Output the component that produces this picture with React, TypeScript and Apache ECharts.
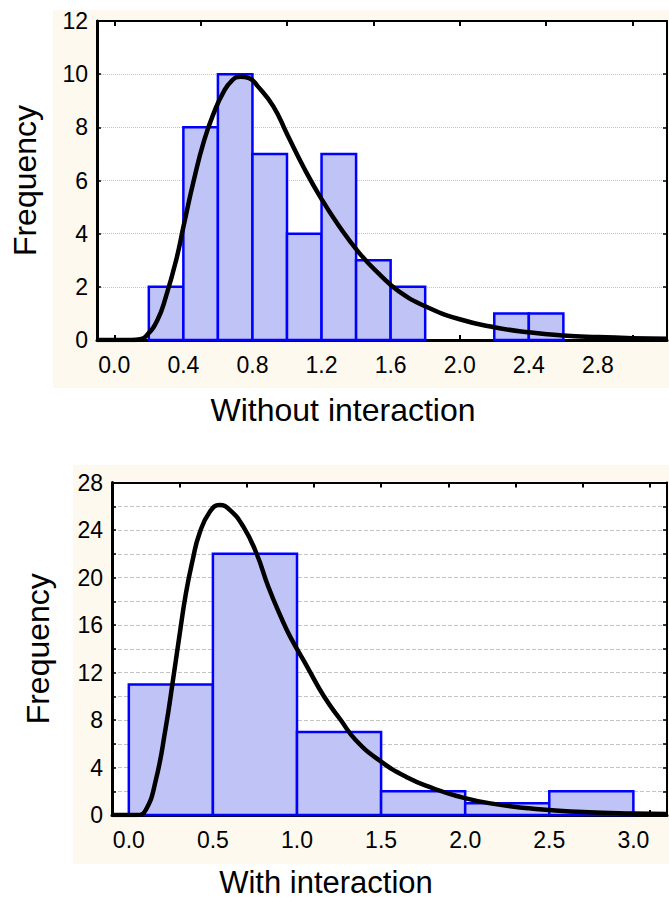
import React, { useEffect, useRef } from "react";
import * as echarts from "echarts";

// ---------- Top chart: Without interaction ----------
const topBinLo = [0.2, 0.4, 0.6, 0.8, 1.0, 1.2, 1.4, 1.6, 2.2, 2.4];
const topBinHi = [0.4, 0.6, 0.8, 1.0, 1.2, 1.4, 1.6, 1.8, 2.4, 2.6];
const topCounts = [2, 8, 10, 7, 4, 7, 3, 2, 1, 1];
const topCurveX = [-0.1, 0.1, 0.15, 0.19, 0.25, 0.3, 0.36, 0.4, 0.46, 0.52, 0.58, 0.63, 0.68, 0.73, 0.78, 0.83, 0.92, 1.0, 1.1, 1.2, 1.3, 1.42, 1.54, 1.65, 1.8, 2.0, 2.2, 2.4, 2.6, 2.8, 3.0, 3.2];
const topCurveY = [0, 0, 0.03, 0.19, 0.75, 1.65, 3.05, 4.25, 6.0, 7.5, 8.6, 9.3, 9.75, 9.9, 9.85, 9.55, 8.8, 7.75, 6.45, 5.3, 4.3, 3.26, 2.44, 1.82, 1.27, 0.78, 0.48, 0.29, 0.17, 0.11, 0.07, 0.05];
const topXLabels = [0.0, 0.4, 0.8, 1.2, 1.6, 2.0, 2.4, 2.8];
const topXTicks = [0.0, 0.5, 1.0, 1.5, 2.0, 2.5, 3.0];
const topYLabels = [0, 2, 4, 6, 8, 10, 12];
const topXTitle = "Without interaction";

// ---------- Bottom chart: With interaction ----------
const botBinLo = [0.0, 0.5, 1.0, 1.5, 2.0, 2.5];
const botBinHi = [0.5, 1.0, 1.5, 2.0, 2.5, 3.0];
const botCounts = [11, 22, 7, 2, 1, 2];
const botCurveX = [-0.1, 0.05, 0.1, 0.16, 0.22, 0.26, 0.3, 0.34, 0.38, 0.42, 0.48, 0.54, 0.6, 0.68, 0.76, 0.83, 0.91, 0.96, 1.06, 1.16, 1.26, 1.35, 1.49, 1.65, 1.81, 1.95, 2.15, 2.44, 2.7, 3.0, 3.2];
const botCurveY = [0, 0, 0.4, 2.9, 7.4, 11.1, 15.0, 18.7, 21.5, 23.7, 25.5, 26.1, 25.7, 24.3, 22.0, 19.2, 16.5, 15.0, 12.5, 10.0, 8.0, 6.3, 4.6, 3.2, 2.25, 1.6, 0.98, 0.48, 0.26, 0.13, 0.09];
const botXLabels = [0.0, 0.5, 1.0, 1.5, 2.0, 2.5, 3.0];
const botXTicks = [0.3, 0.7, 1.1, 1.5, 1.9, 2.3, 2.7, 3.1];
const botYLabels = [0, 4, 8, 12, 16, 20, 24, 28];
const botXTitle = "With interaction";

const FONT = "'Liberation Sans', Arial, sans-serif";
const BAR_FILL = "#c0c3f6";
const BAR_STROKE = "#0000ff";
const CREAM = "#fdf9ee";

function histSeries(lo: number[], hi: number[], counts: number[], idx: number) {
  return {
    type: "custom",
    xAxisIndex: idx * 2,
    yAxisIndex: idx * 2,
    z: 3,
    encode: { x: [0, 1], y: 2 },
    data: lo.map((l, i) => [l, hi[i], counts[i]]),
    renderItem: (params: any, api: any) => {
      const p0 = api.coord([api.value(0), api.value(2)]);
      const p1 = api.coord([api.value(1), 0]);
      return {
        type: "rect",
        shape: { x: p0[0], y: p0[1], width: p1[0] - p0[0], height: p1[1] - p0[1] },
        style: { fill: BAR_FILL, stroke: BAR_STROKE, lineWidth: 2.5 },
      };
    },
  };
}

function curveSeries(xs: number[], ys: number[], idx: number) {
  return {
    type: "line",
    xAxisIndex: idx * 2,
    yAxisIndex: idx * 2,
    z: 5,
    smooth: 0.5,
    showSymbol: false,
    symbol: "none",
    lineStyle: { color: "#000", width: 4.5 },
    data: xs.map((x, i) => [x, ys[i]]),
  };
}

function xAxes(grid: number, labels: number[], ticks: number[]) {
  return [
    {
      type: "value",
      gridIndex: grid,
      position: "bottom",
      min: -0.1,
      max: 3.2,
      axisLine: { show: true, onZero: false, lineStyle: { color: "#000", width: 3 } },
      axisTick: { show: true, inside: true, length: 5, customValues: ticks, lineStyle: { color: "#000", width: 2 } },
      axisLabel: {
        show: true,
        customValues: labels,
        formatter: (v: number) => v.toFixed(1),
        fontSize: 23,
        fontFamily: FONT,
        color: "#000",
        margin: 13,
      },
      splitLine: { show: false },
    },
    {
      type: "value",
      gridIndex: grid,
      position: "top",
      min: -0.1,
      max: 3.2,
      axisLine: { show: true, onZero: false, lineStyle: { color: "#000", width: 2 } },
      axisTick: { show: true, inside: true, length: 5, customValues: ticks, lineStyle: { color: "#000", width: 2 } },
      axisLabel: { show: false },
      splitLine: { show: false },
    },
  ];
}

function yAxes(grid: number, max: number, labels: number[], gridType: string, nameGap: number) {
  return [
    {
      type: "value",
      gridIndex: grid,
      position: "left",
      min: 0,
      max,
      interval: 2,
      axisLine: { show: true, onZero: false, lineStyle: { color: "#000", width: 3 } },
      axisTick: { show: true, inside: true, length: 4, lineStyle: { color: "#000", width: 1.5 } },
      axisLabel: {
        show: true,
        customValues: labels,
        fontSize: 23,
        fontFamily: FONT,
        color: "#000",
        margin: 9,
      },
      splitLine: { show: true, lineStyle: { color: "#c4c4c4", type: gridType, width: 1 } },
      name: "Frequency",
      nameLocation: "middle",
      nameGap,
      nameTextStyle: { fontSize: 32, fontFamily: FONT, color: "#000" },
    },
    {
      type: "value",
      gridIndex: grid,
      position: "right",
      min: 0,
      max,
      interval: 2,
      axisLine: { show: true, onZero: false, lineStyle: { color: "#000", width: 2 } },
      axisTick: { show: true, inside: true, length: 4, lineStyle: { color: "#000", width: 1.5 } },
      axisLabel: { show: false },
      splitLine: { show: false },
    },
  ];
}

export default function App() {
  const ref = useRef<HTMLDivElement>(null);
  useEffect(() => {
    if (!ref.current) return;
    const chart = echarts.init(ref.current, null, { renderer: "svg" });
    const option: any = {
      animation: false,
      backgroundColor: "#fff",
      graphic: [
        { type: "rect", z: -100, shape: { x: 53, y: 10, width: 616, height: 378 }, style: { fill: CREAM } },
        { type: "rect", z: -100, shape: { x: 73, y: 465, width: 596, height: 399 }, style: { fill: CREAM } },
        {
          type: "text", x: 343, y: 410,
          style: { text: topXTitle, fontSize: 32, fontFamily: FONT, fill: "#000", align: "center", verticalAlign: "middle" },
        },
        {
          type: "text", x: 326, y: 882,
          style: { text: botXTitle, fontSize: 31, fontFamily: FONT, fill: "#000", align: "center", verticalAlign: "middle" },
        },
      ],
      grid: [
        { left: 97, top: 21, width: 570, height: 319, show: true, backgroundColor: "#fff", borderWidth: 0 },
        { left: 112, top: 482.5, width: 555, height: 332.5, show: true, backgroundColor: "#fff", borderWidth: 0 },
      ],
      xAxis: [
        ...xAxes(0, topXLabels, topXTicks),
        ...xAxes(1, botXLabels, botXTicks),
      ],
      yAxis: [
        ...yAxes(0, 12, topYLabels, "dotted", 56),
        ...yAxes(1, 28, botYLabels, "dashed", 58),
      ],
      series: [
        histSeries(topBinLo, topBinHi, topCounts, 0),
        curveSeries(topCurveX, topCurveY, 0),
        histSeries(botBinLo, botBinHi, botCounts, 1),
        curveSeries(botCurveX, botCurveY, 1),
      ],
    };
    chart.setOption(option);
    return () => chart.dispose();
  }, []);
  return (
    <div
      ref={ref}
      style={{ position: "fixed", left: 0, top: 0, width: 669, height: 900, background: "#fff" }}
    />
  );
}
